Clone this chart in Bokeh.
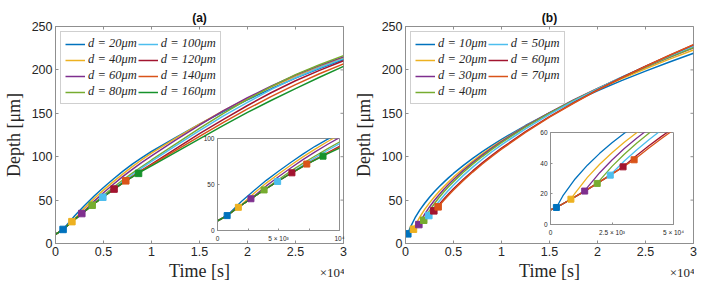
import math
from bokeh.plotting import figure
from bokeh.models import Legend, LegendItem, Range1d, FixedTicker
from bokeh.layouts import row
from bokeh.embed import file_html
from bokeh.resources import INLINE

# ---------------- colours ----------------
BLUE, YELLOW, PURPLE, GREEN = "#0072BD", "#EDB120", "#7E2F8E", "#77AC30"
CYAN, RED, ORANGE, DKGREEN = "#4DBEEE", "#A2142F", "#D95319", "#16922B"
AX = "#8f8f8f"
TXT = "#262626"

# ---------------- panel (a) data (time in units of 1e4 s, depth in um) ----------------
d_a = [20, 40, 60, 80, 100, 120, 140, 160]
colors_a = [BLUE, YELLOW, PURPLE, GREEN, CYAN, RED, ORANGE, DKGREEN]
depth0_a = 10.5
marker_time_a = [0.079, 0.171, 0.274, 0.382, 0.493, 0.61, 0.732, 0.865]
marker_depth_a = [16.2, 25.2, 34.5, 44.1, 53.3, 62.7, 72.2, 80.8]
grid_a = [0.1, 0.2, 0.3, 0.4, 0.5, 0.6, 0.7, 0.8, 0.9, 1.0,
          1.25, 1.5, 1.75, 2.0, 2.25, 2.5, 2.75, 3.0]
a_d20 = [19, 32, 43.5, 54.5, 64.5, 74, 83, 91.5, 99, 106, 122, 137.5, 152, 165.5, 178.5, 190.5, 201.5, 212]
a_d40 = [28.5, 40.5, 51.5, 61.5, 71, 80, 88.5, 96.5, 104, 121, 137.5, 153, 167, 180.5, 192.5, 203.5, 214]
a_d60 = [37.5, 48.5, 58.5, 68, 77, 85.5, 93.5, 101, 119, 136.5, 153, 168, 181.5, 194, 205, 215]
a_d80 = [46, 55.5, 64.5, 73, 81, 88.7, 96.2, 114.5, 132.5, 150, 166, 181, 194.5, 206, 216.5]
a_d100 = [54, 62.5, 71, 79.2, 87, 94.5, 112.5, 130, 147, 162.5, 177.5, 191, 202.5, 213]
a_d120 = [69.5, 77, 84.5, 91.5, 109, 126.5, 143, 159, 174, 187.5, 199.5, 210.5]
a_d140 = [77, 84, 90.5, 107, 123.5, 139.5, 155, 169.5, 183, 195.5, 207]
a_d160 = [83.3, 89.5, 105, 120.5, 136, 151, 165, 178.5, 191.5, 204]
branches_a = [a_d20, a_d40, a_d60, a_d80, a_d100, a_d120, a_d140, a_d160]

# ---------------- panel (b) data ----------------
d_b = [10, 20, 30, 40, 50, 60, 70]
colors_b = [BLUE, YELLOW, PURPLE, GREEN, CYAN, RED, ORANGE]
depth0_b = 9.5
marker_time_b = [0.024, 0.083, 0.139, 0.19, 0.243, 0.295, 0.34]
marker_depth_b = [11.1, 16.5, 21.8, 26.8, 32.2, 37.6, 42.2]
grid_b = [0.05, 0.1, 0.15, 0.2, 0.25, 0.3, 0.35, 0.4, 0.45, 0.5,
          0.6, 0.7, 0.8, 0.9, 1.0, 1.25, 1.5, 1.75, 2.0, 2.25, 2.5, 2.75, 3.0]
b_d10 = [18.6, 29.7, 38.7, 46.4, 53.3, 59.5, 65.3, 70.7, 75.9, 80.7, 89.7, 98.0, 105.8, 113.1, 120.0,
         135.9, 150.3, 163.6, 176.0, 187.6, 198.6, 209.1, 219.1]
b_d20 = [20.5, 30.7, 39.3, 46.8, 53.6, 59.9, 65.7, 71.2, 76.4, 86.1, 94.9, 103.2, 111.0, 118.3,
         135.2, 150.4, 164.5, 177.5, 189.8, 201.4, 212.4, 223.0]
b_d30 = [24.2, 33.8, 42.1, 49.5, 56.2, 62.5, 68.3, 73.8, 83.9, 93.2, 101.8, 109.9, 117.5,
         135.0, 150.8, 165.3, 178.7, 191.4, 203.3, 214.6, 225.5]
b_d40 = [28.8, 37.9, 45.8, 53.0, 59.5, 65.6, 71.3, 81.8, 91.4, 100.2, 108.5, 116.3,
         134.1, 150.2, 164.9, 178.5, 191.3, 203.4, 214.9, 225.8]
b_d50 = [33.4, 41.4, 48.6, 55.3, 61.5, 67.4, 78.2, 88.0, 97.1, 105.7, 113.7,
         132.1, 148.8, 164.1, 178.2, 191.5, 204.1, 216.0, 227.4]
b_d60 = [38.3, 45.0, 51.3, 57.3, 63.0, 73.7, 83.6, 92.8, 101.5, 109.8,
         128.8, 146.2, 162.1, 177.0, 191.0, 204.2, 216.8, 228.9]
b_d70 = [43.5, 49.9, 55.9, 61.7, 72.4, 82.3, 91.6, 100.4, 108.7,
         128.0, 145.5, 161.6, 176.6, 190.8, 204.1, 216.9, 229.1]
branches_b = [b_d10, b_d20, b_d30, b_d40, b_d50, b_d60, b_d70]

# ---------------- ticks ----------------
x_ticks = [0, 0.5, 1, 1.5, 2, 2.5, 3]
x_tick_labels = ["0", "0.5", "1", "1.5", "2", "2.5", "3"]
y_ticks = [0, 50, 100, 150, 200, 250]
x_exponent = "×10⁴"
inset_a_x_ticks = [0, 0.5, 1]
inset_a_x_minor = [0.25, 0.75]
inset_a_x_labels = ["0", "5 × 10³", "10⁴"]
inset_a_y_ticks = [0, 50, 100]
inset_b_x_ticks = [0, 0.25, 0.5]
inset_b_x_labels = ["0", "2.5 × 10³", "5 × 10⁴"]
inset_b_y_ticks = [0, 20, 40, 60]


def build(mt, md, d0, grid, branches):
    curves = []
    for i, br in enumerate(branches):
        ts = [0.0] + mt[:i + 1] + [g for g in grid if g > mt[i]]
        ds = [d0] + md[:i + 1] + br
        assert len(ts) == len(ds), (i, len(ts), len(ds))
        curves.append((ts, ds))
    return curves


curves_a = build(marker_time_a, marker_depth_a, depth0_a, grid_a, branches_a)
curves_b = build(marker_time_b, marker_depth_b, depth0_b, grid_b, branches_b)


def style_axis(ax, ticks, labels=None, size="12.5px", tick_in=3, minor=None):
    ax.ticker = FixedTicker(ticks=ticks, minor_ticks=minor or [])
    if labels is not None:
        ax.major_label_overrides = {t: l for t, l in zip(ticks, labels)}
    ax.major_tick_in = tick_in
    ax.major_tick_out = 0
    ax.minor_tick_in = tick_in if minor else 0
    ax.minor_tick_out = 0
    ax.axis_line_color = AX
    ax.major_tick_line_color = AX
    ax.minor_tick_line_color = AX
    ax.major_label_text_font = "Liberation Sans"
    ax.major_label_text_font_size = size
    ax.major_label_text_color = TXT


def main_fig(curves, mt, md, colors, ds, title, border_right):
    p = figure(frame_width=288, frame_height=217, x_range=Range1d(0, 3), y_range=Range1d(0, 250),
               output_backend="svg", toolbar_location=None,
               min_border_left=55, min_border_right=border_right,
               min_border_top=26, min_border_bottom=44)
    p.xgrid.visible = False
    p.ygrid.visible = False
    p.outline_line_color = AX
    p.background_fill_color = "white"
    p.title.text = title
    p.title.align = "center"
    p.title.text_font = "Liberation Sans"
    p.title.text_font_size = "12px"
    p.title.text_font_style = "bold"
    p.title.text_color = "#111111"
    p.title.standoff = 3

    rends = []
    for (ts, dd), c in zip(curves, colors):
        rends.append(p.line(ts, dd, line_color=c, line_width=1.5))
    p.scatter(mt, md, marker="square", size=6.5, fill_color=colors, line_color=colors)

    # mirrored (box) ticks on top and right, half-visible dashes at the frame edges
    xr, yr = p.x_range, p.y_range
    p.scatter(x_ticks, [yr.end] * len(x_ticks), marker="dash", angle=math.pi / 2, size=6,
              line_color=AX, line_width=1)
    p.scatter([xr.end] * len(y_ticks), y_ticks, marker="dash", size=6, line_color=AX, line_width=1)

    style_axis(p.xaxis[0], x_ticks, x_tick_labels)
    style_axis(p.yaxis[0], y_ticks)
    p.xaxis[0].major_label_standoff = 3
    p.yaxis[0].major_label_standoff = 3
    p.xaxis[0].axis_label = "Time [s]"
    p.yaxis[0].axis_label = "Depth [μm]"
    for ax in (p.xaxis[0], p.yaxis[0]):
        ax.axis_label_text_font = "Liberation Serif"
        ax.axis_label_text_font_size = "18px"
        ax.axis_label_text_font_style = "normal"
        ax.axis_label_text_color = TXT
    p.xaxis[0].axis_label_standoff = 2
    p.yaxis[0].axis_label_standoff = 5

    items = [LegendItem(label=f"d = {d}μm", renderers=[r]) for d, r in zip(ds, rends)]
    leg = Legend(items=items, location="top_left", orientation="vertical", nrows=4,
                 margin=5, padding=4, spacing=1, glyph_width=20, glyph_height=12,
                 label_height=12, label_standoff=3, border_line_color="#a0a0a0",
                 background_fill_color="white", background_fill_alpha=1.0,
                 label_text_font="Liberation Serif", label_text_font_style="italic",
                 label_text_font_size="12.5px", label_text_color=TXT)
    p.add_layout(leg)
    return p


def inset_fig(curves, mt, md, colors, xr, yr, xt, xl, yt, fw, fh, left, top, br, xminor=None):
    p = figure(frame_width=fw, frame_height=fh, x_range=Range1d(*xr), y_range=Range1d(*yr),
               output_backend="svg", toolbar_location=None,
               min_border_left=16, min_border_right=br, min_border_top=4, min_border_bottom=14,
               styles={"position": "absolute", "left": f"{left}px", "top": f"{top}px"})
    p.border_fill_alpha = 0
    p.background_fill_color = "white"
    p.xgrid.visible = False
    p.ygrid.visible = False
    p.outline_line_color = AX
    for (ts, dd), c in zip(curves, colors):
        p.line(ts, dd, line_color=c, line_width=1.3)
    p.scatter(mt, md, marker="square", size=6, fill_color=colors, line_color=colors)
    style_axis(p.xaxis[0], xt, xl, size="6.5px", tick_in=2, minor=xminor)
    style_axis(p.yaxis[0], yt, size="6.5px", tick_in=2)
    p.xaxis[0].major_label_standoff = 4
    p.yaxis[0].major_label_standoff = 3
    return p


def exponent_fig(text, right, cy):
    w, h = 44, 18
    p = figure(frame_width=w, frame_height=h, x_range=Range1d(0, 1), y_range=Range1d(0, 1),
               x_axis_type=None, y_axis_type=None, output_backend="svg", toolbar_location=None,
               min_border=0, styles={"position": "absolute", "left": f"{right - w}px",
                                     "top": f"{cy - h // 2}px"})
    p.outline_line_color = None
    p.border_fill_alpha = 0
    p.background_fill_alpha = 0
    p.grid.visible = False
    p.text(x=[1], y=[0.5], text=[text], text_align="right", text_baseline="middle",
           text_font="Liberation Sans", text_font_size="13px", text_color=TXT)
    return p


pa = main_fig(curves_a, marker_time_a, marker_depth_a, colors_a, d_a, "(a)", 7)
pb = main_fig(curves_b, marker_time_b, marker_depth_b, colors_b, d_b, "(b)", 7)

ia = inset_fig(curves_a, marker_time_a, marker_depth_a, colors_a, (0, 1), (0, 100),
               inset_a_x_ticks, inset_a_x_labels, inset_a_y_ticks, 122, 92, 200, 134, 6,
               xminor=inset_a_x_minor)
ib = inset_fig(curves_b, marker_time_b, marker_depth_b, colors_b, (0, 0.5), (0, 60),
               inset_b_x_ticks, inset_b_x_labels, inset_b_y_ticks, 123, 92, 534, 128, 11)

ea = exponent_fig(x_exponent, 344, 272)
eb = exponent_fig(x_exponent, 694, 272)

layout = row(pa, pb)
open("out.html", "w").write(file_html([layout, ia, ib, ea, eb], INLINE))
